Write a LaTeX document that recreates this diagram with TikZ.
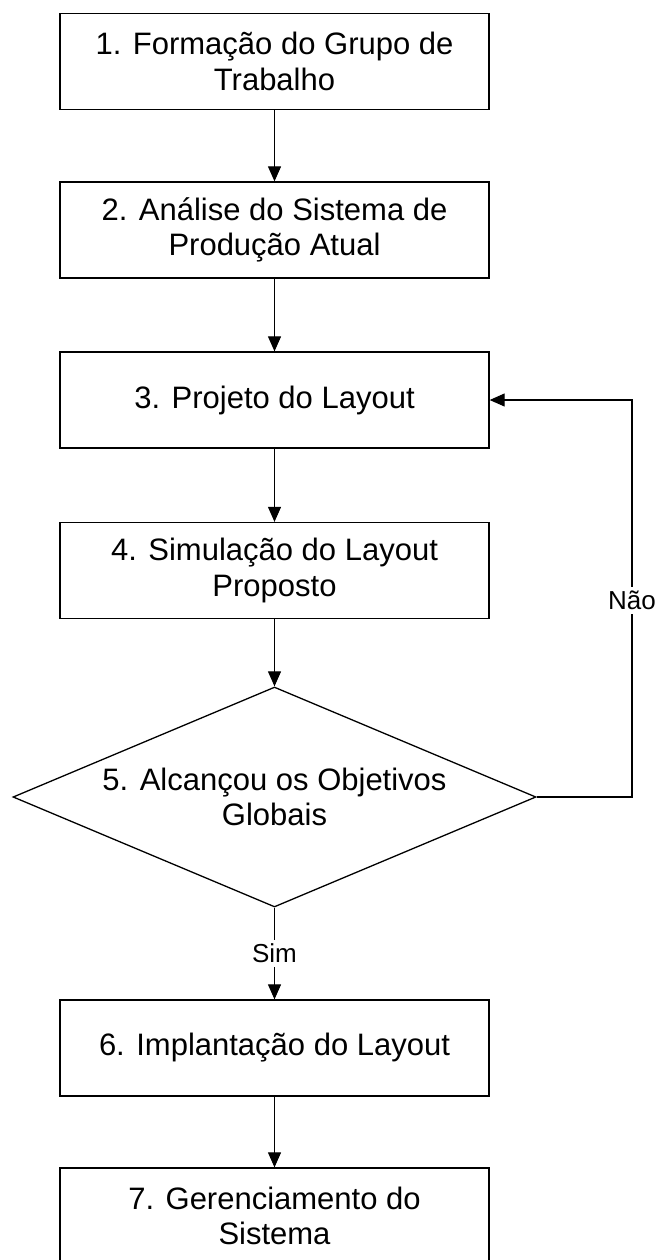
\documentclass[tikz,border=0pt]{standalone}
\usepackage{fontspec}
\setmainfont{Liberation Sans}
\usetikzlibrary{arrows.meta,shapes.geometric}

\newcommand{\boxfont}{\fontsize{31}{35.5}\selectfont}
\newcommand{\labelfont}{\fontsize{26}{30}\selectfont}

\tikzset{
  stepbox/.style={draw, line width=1.3pt, rectangle, minimum width=429pt,
    minimum height=96pt, inner sep=0pt, align=center, font=\boxfont},
  decision/.style={draw, line width=1.3pt, diamond, aspect=2.377,
    minimum width=523pt, minimum height=220pt, inner sep=0pt,
    align=center, font=\boxfont},
  flow/.style={line width=1.1pt, -{Triangle[length=15pt,width=13pt]}},
  edgelabel/.style={fill=white, inner sep=4pt, font=\labelfont}
}

\begin{document}
\begin{tikzpicture}[x=1pt, y=-1pt]
  \useasboundingbox (0,0) rectangle (656,1260);

  % process steps
  \node[stepbox] (b1) at (274.5,61.5)  {1. Formação do Grupo de\\Trabalho};
  \node[stepbox] (b2) at (274.5,230)   {2. Análise do Sistema de\\Produção Atual};
  \node[stepbox] (b3) at (274.5,400)   {3. Projeto do Layout};
  \node[stepbox] (b4) at (274.5,570.5) {4. Simulação do Layout\\Proposto};
  \node[decision] (d5) at (274.5,797)  {5. Alcançou os Objetivos\\Globais};
  \node[stepbox] (b6) at (274.5,1048)  {6. Implantação do Layout};
  \node[stepbox] (b7) at (274.5,1216)  {7. Gerenciamento do\\Sistema};

  % return path for the "no" answer
  \coordinate (loopLow)  at (632,797);
  \coordinate (loopHigh) at (632,400);

  % connectors
  \draw[flow] (b1) -- (b2);
  \draw[flow] (b2) -- (b3);
  \draw[flow] (b3) -- (b4);
  \draw[flow] (b4) -- (d5);
  \draw[flow] (d5.south) -- node[edgelabel] (sim) {Sim} (b6.north);
  \draw[flow] (b6) -- (b7);
  \draw[flow] (d5.east) -- (loopLow) -- node[edgelabel, pos=0.495] (nao) {Não} (loopHigh) -- (b3.east);
\end{tikzpicture}
\end{document}
